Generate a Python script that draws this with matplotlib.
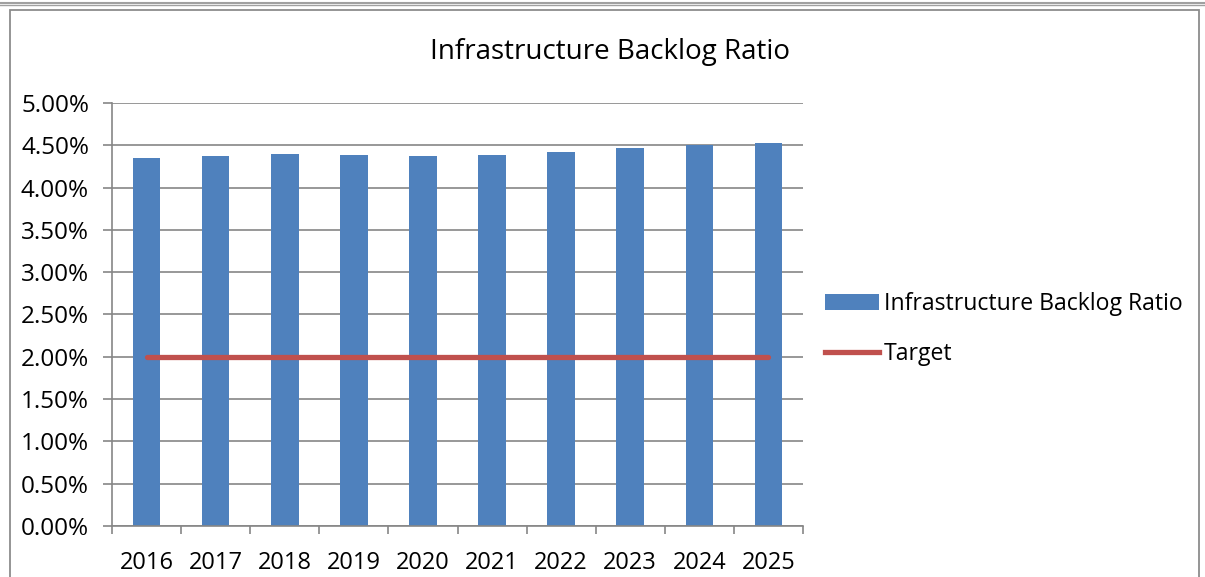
import matplotlib.pyplot as plt
import numpy as np
from matplotlib.lines import Line2D
from matplotlib.patches import Patch, Rectangle
from matplotlib.ticker import FuncFormatter, MultipleLocator

# Infrastructure backlog ratio per year, in percent
years = ["2016", "2017", "2018", "2019", "2020", "2021", "2022", "2023", "2024", "2025"]
backlog_ratio = [4.35, 4.37, 4.40, 4.39, 4.37, 4.39, 4.425, 4.47, 4.50, 4.53]
target = [2.00] * len(years)

BAR_COLOR = "#4F81BD"
LINE_COLOR = "#C0504D"
GRID_COLOR = "#868686"

plt.rcParams["font.family"] = ["Open Sans", "DejaVu Sans"]

W, H = 1205, 577
fig = plt.figure(figsize=(W / 100, H / 100), dpi=100)

# outer chart border
fig.add_artist(Line2D([0, 1], [1 - 2.5 / H, 1 - 2.5 / H], color="#A0A0A0", lw=1.5))
fig.add_artist(Line2D([0, 1], [1 - 5 / H, 1 - 5 / H], color="#A0A0A0", lw=1.0))
fig.add_artist(Rectangle((9.5 / W, -0.1), (1199 - 9.5) / W, 1.1 - 9.5 / H,
                         transform=fig.transFigure, fill=False,
                         edgecolor="#8C8C8C", lw=1.3))

ax = fig.add_axes([112 / W, 1 - 526 / H, 691 / W, 423 / H])
x = np.arange(len(years))

ax.bar(x, backlog_ratio, width=0.4, color=BAR_COLOR, zorder=2,
       label="Infrastructure Backlog Ratio")
ax.plot(x, target, color=LINE_COLOR, lw=3.8, solid_capstyle="round", zorder=3,
        label="Target")

ax.set_xlim(-0.5, len(years) - 0.5)
ax.set_ylim(0, 5)
ax.yaxis.set_major_locator(MultipleLocator(0.5))
ax.yaxis.set_major_formatter(FuncFormatter(lambda v, _: f"{v:.2f}%"))
ax.yaxis.grid(True, color=GRID_COLOR, lw=1.2, zorder=0)
ax.set_axisbelow(True)

ax.set_xticks(x)
ax.set_xticklabels(years)
ax.set_xticks(np.arange(-0.5, len(years)), minor=True)
ax.tick_params(axis="x", which="major", length=0, pad=18, labelsize=17)
ax.tick_params(axis="x", which="minor", length=5.5, width=1.2, color=GRID_COLOR)
ax.tick_params(axis="y", length=6.5, width=1.2, color=GRID_COLOR, labelsize=17.5, pad=10)

for side in ("top", "right"):
    ax.spines[side].set_visible(False)
for side in ("left", "bottom"):
    ax.spines[side].set_color(GRID_COLOR)
    ax.spines[side].set_linewidth(1.2)

fig.text(610 / W, 1 - 52 / H, "Infrastructure Backlog Ratio", ha="center",
         va="center", fontsize=20)

handles = [Patch(facecolor=BAR_COLOR), Line2D([], [], color=LINE_COLOR, lw=3.8)]
fig.legend(handles, ["Infrastructure Backlog Ratio", "Target"],
           loc="center left", bbox_to_anchor=(804 / W, 1 - 329 / H),
           frameon=False, fontsize=16.6, handlelength=2.35, handleheight=0.7,
           handletextpad=0.2, labelspacing=1.15)

fig.savefig("out.png", dpi=100)
